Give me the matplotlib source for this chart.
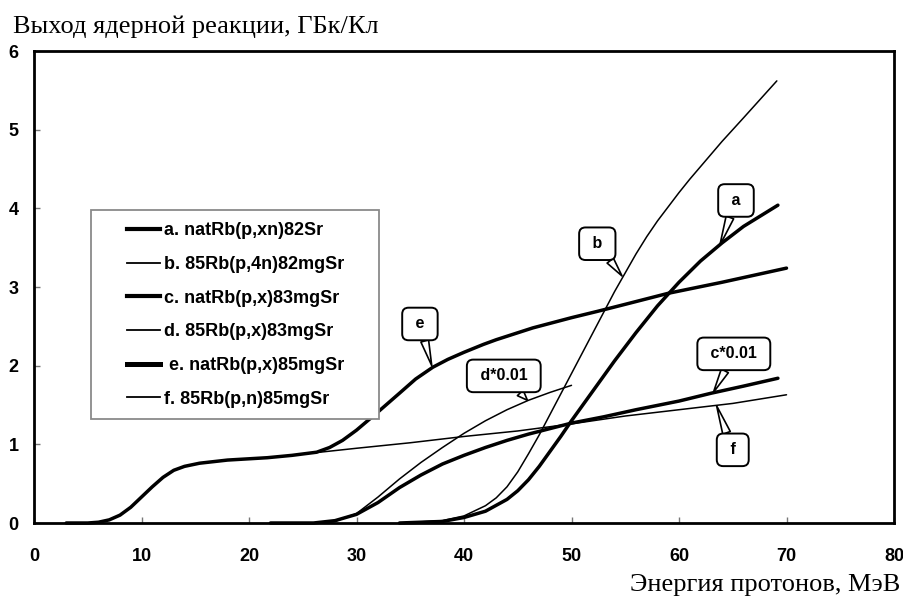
import matplotlib
matplotlib.use("Agg")
import matplotlib.pyplot as plt
from matplotlib.lines import Line2D
from matplotlib.patches import Rectangle

# ---- data ----
a_x = [34, 38, 40, 42, 44, 45, 46, 47, 48, 49, 50, 52, 54, 56, 58, 60, 62, 64, 66, 69.2]
a_y = [0, 0.02, 0.07, 0.15, 0.30, 0.41, 0.55, 0.72, 0.91, 1.10, 1.30, 1.68, 2.06, 2.42, 2.76, 3.06, 3.33, 3.56, 3.77, 4.04]

b_x = [34, 38, 40, 42, 43, 44, 45, 46, 47, 48, 50, 52, 54, 55, 56, 57, 58, 59, 60, 61, 62, 64, 66, 69.1]
b_y = [0, 0.03, 0.09, 0.22, 0.32, 0.46, 0.65, 0.88, 1.12, 1.38, 1.90, 2.42, 2.94, 3.18, 3.42, 3.64, 3.84, 4.02, 4.20, 4.37, 4.53, 4.85, 5.15, 5.62]

c_x = [22, 26, 28, 30, 32, 34, 36, 38, 40, 42, 44, 46, 48, 50, 53, 56, 60, 63, 66, 69.2]
c_y = [0, 0, 0.03, 0.11, 0.26, 0.45, 0.61, 0.75, 0.86, 0.96, 1.05, 1.13, 1.20, 1.27, 1.35, 1.44, 1.55, 1.65, 1.74, 1.84]

d_x = [22, 27, 28, 30, 32, 34, 36, 38, 40, 42, 44, 46, 48, 50]
d_y = [0, 0, 0.02, 0.12, 0.33, 0.56, 0.77, 0.96, 1.14, 1.30, 1.44, 1.56, 1.66, 1.75]

e_x = [3, 5, 6, 7, 8, 9, 10, 11, 12, 13, 14, 15.4, 18, 21.7, 24, 26.3, 27.5, 28.7, 30,
       31.9, 34, 35.5, 37.1, 38.5, 40, 41.8, 43, 46.4, 50, 52.4, 55, 59, 64, 70]
e_y = [0, 0, 0.01, 0.04, 0.10, 0.20, 0.33, 0.46, 0.58, 0.67, 0.72, 0.76, 0.80, 0.83, 0.86, 0.90, 0.96, 1.05, 1.18,
       1.40, 1.65, 1.83, 1.98, 2.08, 2.17, 2.27, 2.33, 2.48, 2.61, 2.69, 2.78, 2.92, 3.06, 3.24]

f_x = [26.6, 30, 35, 40, 45, 50, 55, 60, 65, 70]
f_y = [0.90, 0.95, 1.02, 1.10, 1.17, 1.26, 1.36, 1.44, 1.52, 1.63]

legend_labels = ["a. natRb(p,xn)82Sr", "b. 85Rb(p,4n)82mgSr", "c. natRb(p,x)83mgSr",
                 "d. 85Rb(p,x)83mgSr", " e. natRb(p,x)85mgSr", "f. 85Rb(p,n)85mgSr"]

callout_texts = [" a ", " b ", " e ", " d*0.01 ", " c*0.01 ", " f "]
callout_tips = [(63.8, 3.53), (54.7, 3.14), (37.0, 2.00), (45.9, 1.56), (63.2, 1.66), (63.5, 1.49)]
callout_boxes = [(65.3, 4.10), (52.4, 3.55), (35.9, 2.53), (43.7, 1.87), (65.1, 2.15), (65.0, 0.93)]

x_ticks = [0, 10, 20, 30, 40, 50, 60, 70, 80]
y_ticks = [0, 1, 2, 3, 4, 5, 6]

ylabel_text = "Выход ядерной реакции, ГБк/Кл"
xlabel_text = "Энергия протонов, МэВ"

# ---- figure ----
SANS = ["Liberation Sans", "DejaVu Sans"]
SERIF = ["Liberation Serif", "DejaVu Serif"]

fig = plt.figure(figsize=(9.04, 6.0), dpi=100)
ax = fig.add_axes([34 / 904, 1 - 523 / 600, (894 - 34) / 904, (523 - 51) / 600])

THICK = 2.5
THIN = 1.1
series = [(a_x, a_y, THICK), (b_x, b_y, THIN), (c_x, c_y, THICK),
          (d_x, d_y, THIN), (e_x, e_y, THICK), (f_x, f_y, THIN)]
for xs, ys, lw in series:
    ax.plot(xs, ys, color="black", lw=lw, solid_capstyle="round",
            solid_joinstyle="round", clip_on=False, zorder=3)

ax.set_xlim(0, 80)
ax.set_ylim(0, 6)
ax.set_xticks(x_ticks)
ax.set_yticks(y_ticks)
for sp in ax.spines.values():
    sp.set_linewidth(2.0)
    sp.set_color("black")
ax.tick_params(axis="both", direction="in", length=4, width=1, color="#777777")
ax.tick_params(axis="x", pad=18)
ax.tick_params(axis="y", pad=11)
for lab in ax.get_xticklabels() + ax.get_yticklabels():
    lab.set_fontfamily(SANS)
    lab.set_fontweight("bold")
    lab.set_fontsize(13)

fig.text(13 / 904, 1 - 27 / 600, ylabel_text, family=SERIF, fontsize=19,
         ha="left", va="center")
fig.text(900 / 904, 1 - 585 / 600, xlabel_text, family=SERIF, fontsize=19,
         ha="right", va="center")

# legend frame
frame = Rectangle((91 / 904, 1 - 419 / 600), (379 - 91) / 904, (419 - 210) / 600,
                  transform=fig.transFigure, facecolor="white", edgecolor="#8a8a8a",
                  lw=1.3, zorder=5)
ax.add_artist(frame)
frame.set_clip_on(False)

handles = [Line2D([], [], color="black", lw=3.0), Line2D([], [], color="black", lw=1.3),
           Line2D([], [], color="black", lw=3.0), Line2D([], [], color="black", lw=1.3),
           Line2D([], [], color="black", lw=3.6), Line2D([], [], color="black", lw=1.3)]
leg = ax.legend(handles, legend_labels, loc="upper left",
                bbox_to_anchor=(113 / 904, 1 - 208 / 600), bbox_transform=fig.transFigure,
                frameon=False, handlelength=1.78, handletextpad=0.22, labelspacing=0.92,
                borderpad=0.3,
                prop={"family": SANS, "weight": "bold", "size": 13})
leg.set_zorder(6)

# callouts
for txt, tip, box in zip(callout_texts, callout_tips, callout_boxes):
    ax.annotate(txt, xy=tip, xytext=box, ha="center", va="center",
                fontsize=11.5, fontweight="bold", family=SANS, zorder=7,
                bbox=dict(boxstyle="round,pad=0.55,rounding_size=0.4", fc="white",
                          ec="black", lw=1.4),
                arrowprops=dict(arrowstyle="wedge,tail_width=0.5,shrink_factor=0.5",
                                fc="white", ec="black", lw=1.2, shrinkA=0, shrinkB=0))

fig.savefig("out.png", dpi=100)
